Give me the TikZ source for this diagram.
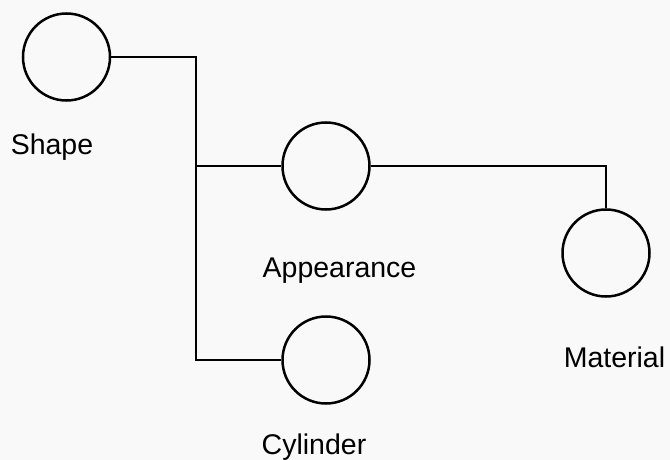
\documentclass[tikz,border=0pt]{standalone}
\usepackage{fontspec}
\setmainfont{Liberation Sans}
\usetikzlibrary{calc,positioning}
\definecolor{PaperGray}{RGB}{249,249,249}

\begin{document}
\begin{tikzpicture}[x=1pt, y=-1pt,
    attr/.style={draw, circle, line width=2.5pt, minimum size=87pt, inner sep=0pt},
    link/.style={line width=2.5pt},
    lbl/.style={anchor=base, font=\fontsize{28.5}{34}\selectfont}]
  % Page and background
  \useasboundingbox (0,0) rectangle (670,460);
  \fill[PaperGray] (0,0) rectangle (670,460);

  % Attribute circles
  \node[attr] (shape) at (66.5,57) {};
  \node[attr] (appearance) at (326,166) {};
  \node[attr] (material) at (606,253) {};
  \node[attr] (cylinder) at (326,360) {};

  % Labels
  \node[lbl] (shapeLbl) at (52,154) {Shape};
  \node[lbl] (appearanceLbl) at (339.5,277) {Appearance};
  \node[lbl] (materialLbl) at (614.5,367) {Material};
  \node[lbl] (cylinderLbl) at (314,454) {Cylinder};

  % Connectors
  \coordinate (split) at (196,57);
  \draw[link] (shape.east) -- (split) |- (appearance.west);
  \draw[link] (split) |- (cylinder.west);
  \draw[link] (appearance.east) -| (material.north);
\end{tikzpicture}
\end{document}
